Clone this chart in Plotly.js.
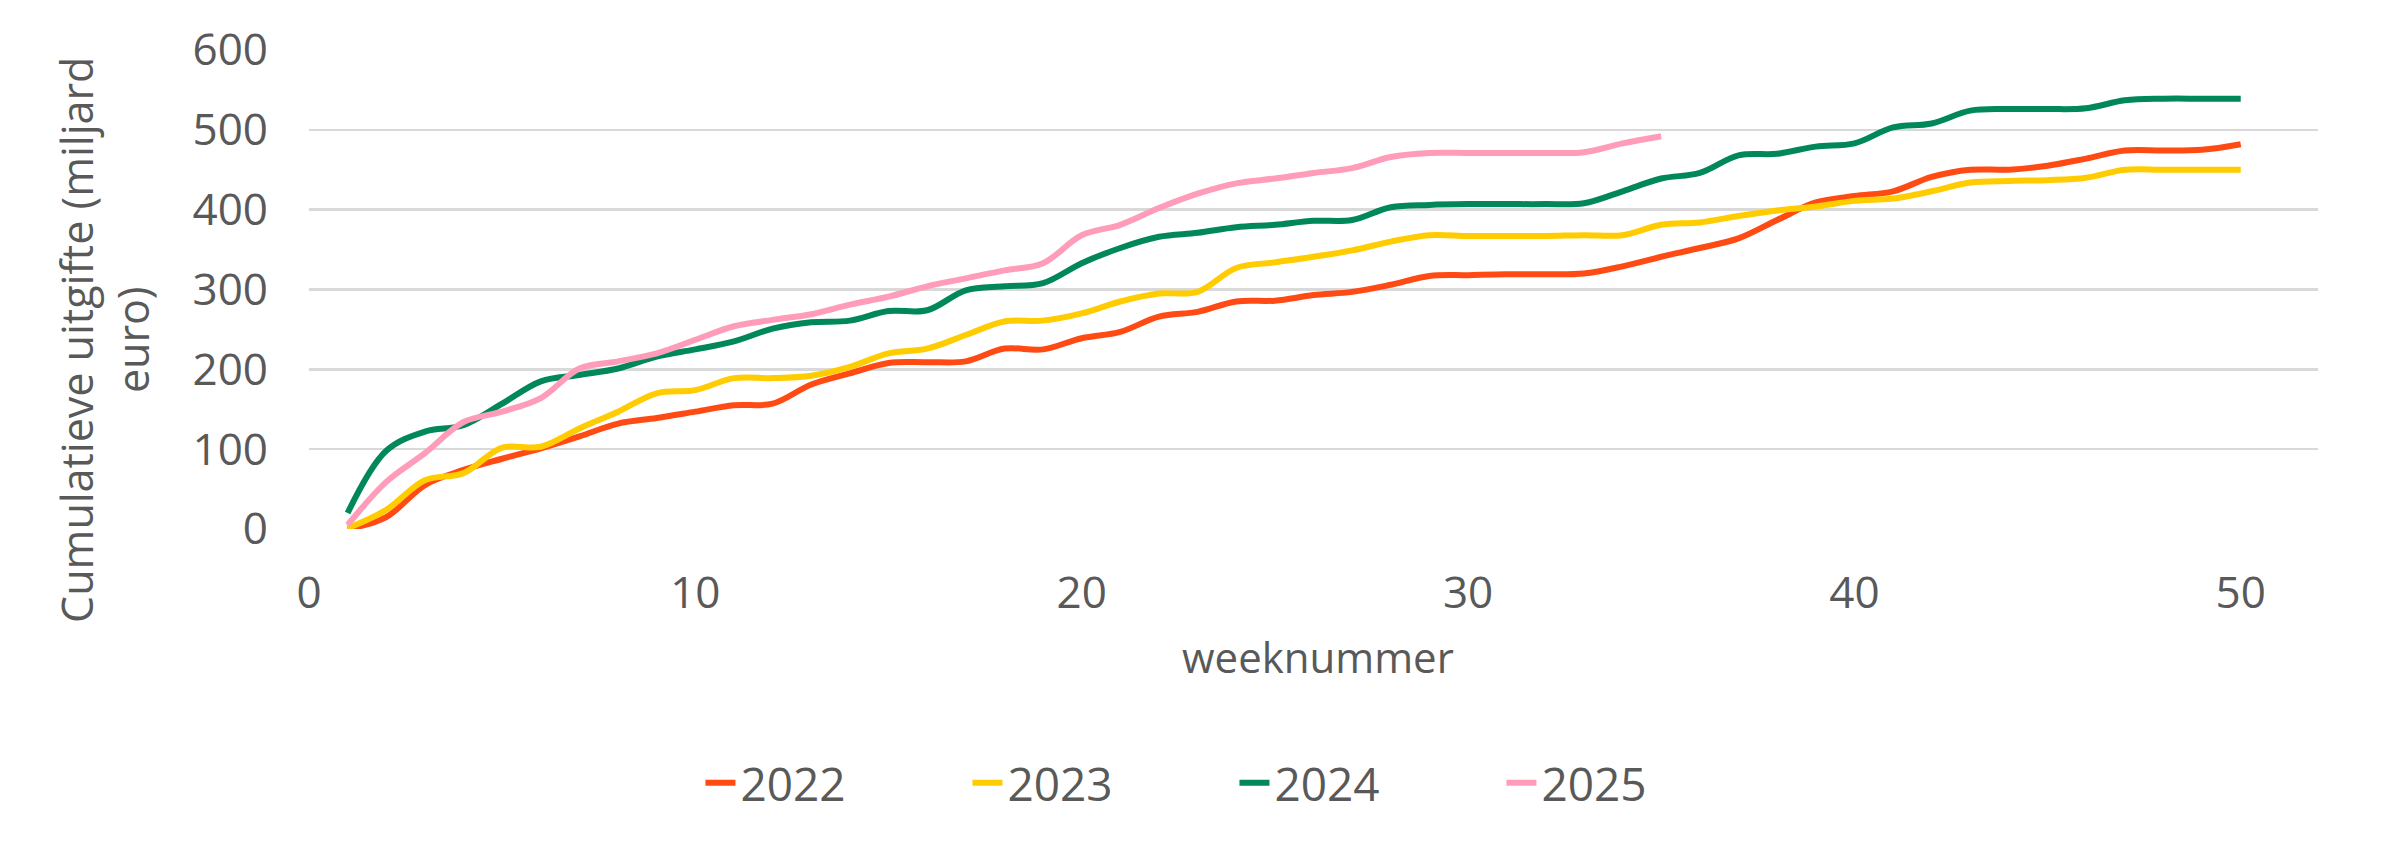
<!DOCTYPE html>
<html>
<head>
<meta charset="utf-8">
<script src="https://cdn.plot.ly/plotly-3.0.1.min.js"></script>
<style>
  html, body { margin: 0; padding: 0; background: #fff; }
  #chart { width: 2397px; height: 849px; }
</style>
</head>
<body>
<div id="chart"></div>
<script>
// weeknummers
const weeks = [];
for (let w = 1; w <= 50; w++) weeks.push(w);
const weeks2025 = weeks.slice(0, 35);

// cumulatieve uitgifte, miljard euro
const values2022 = [0, 15, 55, 74, 88, 101, 116, 132, 139, 147, 155, 157, 181, 195, 208, 209, 210, 226, 225, 239,
  247, 266, 272, 285, 286, 293, 297, 306, 317, 318, 319, 319, 320, 329, 341, 352, 364, 387, 409, 417,
  423, 441, 450, 450, 455, 464, 474, 474, 475, 482];
const values2023 = [1, 24, 61, 70, 102, 103, 126, 147, 170, 174, 189, 189, 192, 203, 220, 226, 243, 260, 261, 270,
  285, 295, 297, 327, 334, 341, 349, 360, 368, 367, 367, 367, 368, 368, 381, 384, 392, 399, 404, 411,
  414, 423, 434, 436, 437, 440, 450, 450, 450, 450];
const values2024 = [20, 98, 122, 130, 157, 185, 193, 201, 216, 225, 235, 251, 259, 261, 273, 274, 299, 304, 308, 333,
  352, 366, 371, 378, 381, 386, 387, 403, 406, 407, 407, 407, 408, 423, 439, 446, 468, 470, 479, 483,
  503, 508, 524, 526, 526, 527, 537, 539, 539, 539];
const values2025 = [5, 59, 95, 134, 147, 164, 201, 210, 220, 237, 254, 262, 269, 281, 291, 304, 314, 324, 333, 368,
  381, 402, 420, 433, 439, 446, 452, 466, 471, 471, 471, 471, 472, 483, 492];

const xTicks = [0, 10, 20, 30, 40, 50];
const yTicks = [0, 100, 200, 300, 400, 500, 600];

const textColor = "#595959";
const fontFamily = "'Open Sans', 'Noto Sans', sans-serif";

function makeLine(x, y, name, color) {
  return {
    x: x,
    y: y,
    name: name,
    type: "scatter",
    mode: "lines",
    line: { color: color, width: 6, shape: "spline", smoothing: 1 },
    hoverinfo: "skip",
  };
}

const data = [
  makeLine(weeks, values2022, "2022", "#FF4A14"),
  makeLine(weeks, values2023, "2023", "#FFCC00"),
  makeLine(weeks, values2024, "2024", "#00875A"),
  makeLine(weeks2025, values2025, "2025", "#FF9CB9"),
];

const layout = {
  width: 2397,
  height: 849,
  paper_bgcolor: "#fff",
  plot_bgcolor: "#fff",
  font: { family: fontFamily, color: textColor, size: 44 },
  margin: { l: 309, r: 79, t: 50, b: 320, pad: 0 },
  showlegend: true,
  legend: {
    orientation: "h",
    xref: "container",
    yref: "container",
    x: 0.515,
    xanchor: "center",
    y: 0.078,
    yanchor: "middle",
    font: { size: 46, color: textColor },
    entrywidth: 222,
    traceorder: "normal",
  },
  xaxis: {
    range: [0, 52],
    tickvals: xTicks,
    showgrid: false,
    zeroline: false,
    showline: false,
    ticks: "",
    ticklabelstandoff: 34,
    tickfont: { size: 44, color: textColor },
  },
  yaxis: {
    range: [0, 600],
    tickvals: yTicks,
    showgrid: true,
    gridcolor: "#D9D9D9",
    gridwidth: 2.5,
    zeroline: false,
    showline: false,
    ticks: "",
    ticklabelstandoff: 40,
    tickfont: { size: 44, color: textColor },
  },
  annotations: [
    {
      text: "weeknummer",
      xref: "paper", yref: "paper",
      x: 0.502, y: -0.267,
      xanchor: "center", yanchor: "middle",
      showarrow: false,
      font: { size: 42, color: textColor },
    },
    {
      text: "Cumulatieve uitgifte (miljard<br>euro)",
      xref: "paper", yref: "paper",
      x: -0.1015, y: 0.395,
      xanchor: "center", yanchor: "middle",
      textangle: -90,
      showarrow: false,
      font: { size: 43, color: textColor },
    },
  ],
};

Plotly.newPlot("chart", data, layout, { staticPlot: true, displayModeBar: false });
</script>
</body>
</html>
